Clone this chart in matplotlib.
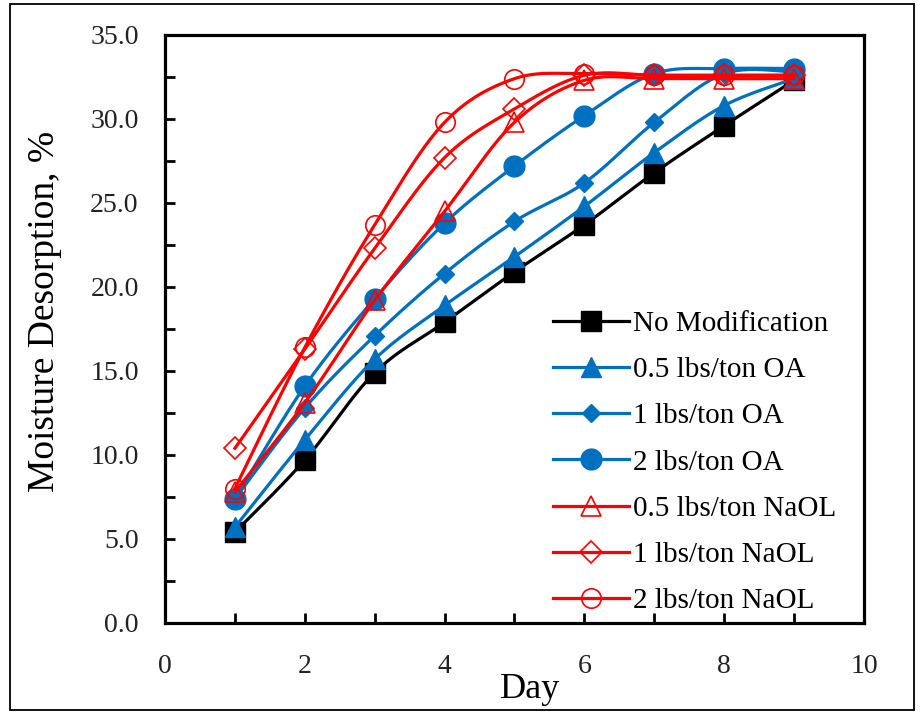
import numpy as np
import matplotlib
matplotlib.use('Agg')
import matplotlib.pyplot as plt
from matplotlib.patches import Rectangle

plt.rcParams['font.family'] = ['Liberation Serif', 'DejaVu Serif']

days = [1, 2, 3, 4, 5, 6, 7, 8, 9]
no_mod = [5.4, 9.7, 14.9, 17.9, 20.9, 23.7, 26.8, 29.6, 32.3]
oa_05 = [5.7, 10.9, 15.7, 18.9, 21.8, 24.8, 28.0, 30.8, 32.4]
oa_1 = [7.4, 12.8, 17.1, 20.8, 23.9, 26.2, 29.8, 32.7, 32.8]
oa_2 = [7.4, 14.1, 19.3, 23.8, 27.2, 30.2, 32.7, 33.0, 33.0]
naol_05 = [7.8, 13.1, 19.2, 24.5, 29.8, 32.3, 32.4, 32.4, 32.4]
naol_1 = [10.4, 16.3, 22.3, 27.7, 30.6, 32.6, 32.6, 32.6, 32.6]
naol_2 = [8.0, 16.4, 23.7, 29.8, 32.4, 32.7, 32.6, 32.6, 32.6]

labels = ['No Modification', '0.5 lbs/ton OA', '1 lbs/ton OA', '2 lbs/ton OA',
          '0.5 lbs/ton NaOL', '1 lbs/ton NaOL', '2 lbs/ton NaOL']

BLUE = '#0070C0'
RED = '#FF0000'


def smooth(x, y, n=25):
    # excel-style smoothed line (bezier through the points)
    p = np.column_stack([x, y]).astype(float)
    pts = [p[0]]
    for i in range(len(p) - 1):
        p0 = p[max(i - 1, 0)]
        p1 = p[i]
        p2 = p[i + 1]
        p3 = p[min(i + 2, len(p) - 1)]
        c1 = p1 + (p2 - p0) / 6
        c2 = p2 - (p3 - p1) / 6
        t = np.linspace(0, 1, n + 1)[1:, None]
        seg = ((1 - t) ** 3) * p1 + 3 * ((1 - t) ** 2) * t * c1 + 3 * (1 - t) * t ** 2 * c2 + t ** 3 * p2
        pts.extend(seg)
    pts = np.array(pts)
    return pts[:, 0], pts[:, 1], list(range(0, len(pts), n))


fig = plt.figure(figsize=(9.24, 7.14), dpi=100)
ax = fig.add_axes([0.1786, 0.1275, 0.7564, 0.8235])

series = [
    (no_mod, 'black', 's', 'black', 15),
    (oa_05, BLUE, '^', BLUE, 14),
    (oa_1, BLUE, 'D', BLUE, 9),
    (oa_2, BLUE, 'o', BLUE, 15),
    (naol_05, RED, '^', 'none', 14),
    (naol_1, RED, 'D', 'none', 11),
    (naol_2, RED, 'o', 'none', 14),
]

for (vals, col, mk, fc, ms), lab in zip(series, labels):
    sx, sy, idx = smooth(days, vals)
    ax.plot(sx, sy, color=col, lw=2.3, marker=mk, markevery=idx, markersize=ms,
            markerfacecolor=fc, markeredgecolor=col,
            markeredgewidth=1.2 if fc == 'none' else 1.0, label=lab)

ax.set_xlim(0, 10)
ax.set_ylim(0, 35)
ax.set_xticks([0, 2, 4, 6, 8, 10])
ax.set_xticks(range(1, 10), minor=True)
ax.set_yticks(np.arange(0, 35.1, 5))
ax.set_yticks(np.arange(0, 35.1, 2.5), minor=True)
ax.set_yticklabels(['%.1f' % v for v in np.arange(0, 35.1, 5)])
ax.tick_params(axis='both', which='both', direction='in', width=2, labelsize=20)
ax.tick_params(axis='both', which='major', length=7)
ax.tick_params(axis='both', which='minor', length=7)
ax.tick_params(axis='x', pad=22)
ax.tick_params(axis='y', pad=19)
for t in ax.get_xticklabels() + ax.get_yticklabels():
    t.set_color('#222222')
for s in ax.spines.values():
    s.set_linewidth(2.3)

ax.set_xlabel('Day', fontsize=26)
ax.xaxis.set_label_coords(0.522, -0.085)
ax.set_ylabel('Moisture Desorption, %', fontsize=27)
ax.yaxis.set_label_coords(-0.148, 0.53)

ax.legend(loc='lower right', bbox_to_anchor=(0.99, -0.02), frameon=False, fontsize=21,
          handlelength=2.6, handletextpad=0.15, labelspacing=0.68, borderaxespad=0.3)

fig.patches.append(Rectangle((0.011, 0.006), 0.978, 0.988, transform=fig.transFigure,
                             fill=False, edgecolor='black', lw=1.3))

plt.savefig('out.png', dpi=100)
